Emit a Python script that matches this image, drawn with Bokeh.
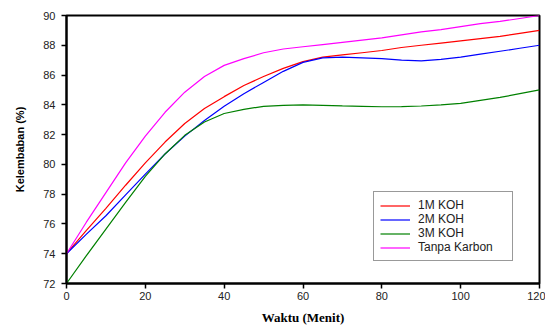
from bokeh.plotting import figure
from bokeh.models import Range1d, FixedTicker, Legend, LegendItem
from bokeh.embed import file_html
from bokeh.resources import INLINE

waktu = [0, 5, 10, 15, 20, 25, 30, 35, 40, 45, 50, 55, 60, 65, 70, 75, 80, 85, 90, 95, 100, 105, 110, 115, 120]
koh_1m = [74.0, 75.55, 77.05, 78.6, 80.1, 81.5, 82.75, 83.75, 84.55, 85.3, 85.9, 86.45, 86.9, 87.2, 87.35, 87.5, 87.65, 87.85, 88.0, 88.15, 88.3, 88.45, 88.6, 88.8, 89.0]
koh_2m = [74.0, 75.3, 76.55, 77.95, 79.35, 80.7, 81.9, 82.95, 83.9, 84.75, 85.5, 86.25, 86.85, 87.15, 87.2, 87.15, 87.1, 87.0, 86.95, 87.05, 87.2, 87.4, 87.6, 87.8, 88.0]
koh_3m = [72.0, 73.85, 75.65, 77.45, 79.2, 80.7, 81.95, 82.85, 83.42, 83.7, 83.9, 83.97, 84.0, 83.97, 83.93, 83.9, 83.87, 83.88, 83.92, 84.0, 84.1, 84.3, 84.5, 84.75, 85.0]
tanpa_karbon = [74.0, 76.1, 78.1, 80.1, 81.9, 83.5, 84.85, 85.9, 86.65, 87.1, 87.5, 87.75, 87.9, 88.05, 88.2, 88.35, 88.5, 88.7, 88.9, 89.05, 89.25, 89.45, 89.6, 89.8, 90.0]

series_names = ["1M KOH", "2M KOH", "3M KOH", "Tanpa Karbon"]
series_values = [koh_1m, koh_2m, koh_3m, tanpa_karbon]
series_colors = ["#ff0000", "#0000ff", "#008000", "#ff00ff"]

x_ticks = [0, 20, 40, 60, 80, 100, 120]
y_ticks = [72, 74, 76, 78, 80, 82, 84, 86, 88, 90]

p = figure(width=545, height=327, output_backend="svg", toolbar_location=None,
           x_range=Range1d(0, 120), y_range=Range1d(72, 90),
           min_border_left=66, min_border_right=6, min_border_top=15, min_border_bottom=43)
p.background_fill_color = "white"
p.border_fill_color = "white"
p.outline_line_color = "black"
p.outline_line_width = 2
p.xgrid.visible = False
p.ygrid.visible = False

for ax in (p.xaxis[0], p.yaxis[0]):
    ax.axis_line_color = "black"
    ax.axis_line_width = 2
    ax.major_tick_line_color = "black"
    ax.major_tick_line_width = 1.5
    ax.major_tick_out = 5
    ax.major_tick_in = 0
    ax.minor_tick_line_color = None
    ax.major_label_text_font = "Liberation Sans"
    ax.major_label_text_font_size = "11px"
    ax.major_label_text_color = "#222222"

p.xaxis[0].ticker = FixedTicker(ticks=x_ticks)
p.yaxis[0].ticker = FixedTicker(ticks=y_ticks)
p.xaxis[0].major_label_standoff = 3
p.yaxis[0].major_label_standoff = 6

p.xaxis[0].axis_label = "Waktu (Menit)"
p.xaxis[0].axis_label_text_font = "Liberation Serif"
p.xaxis[0].axis_label_text_font_style = "bold"
p.xaxis[0].axis_label_text_font_size = "13px"
p.xaxis[0].axis_label_standoff = 7
p.xaxis[0].axis_label_text_color = "black"

p.yaxis[0].axis_label = "Kelembaban (%)"
p.yaxis[0].axis_label_text_font = "Liberation Sans"
p.yaxis[0].axis_label_text_font_style = "bold"
p.yaxis[0].axis_label_text_font_size = "11px"
p.yaxis[0].axis_label_standoff = 14
p.yaxis[0].axis_label_text_color = "black"

items = []
for name, vals, col in zip(series_names, series_values, series_colors):
    r = p.line(waktu, vals, line_color=col, line_width=1.2)
    items.append(LegendItem(label=name, renderers=[r]))

legend = Legend(items=items, location=(307, 22))
legend.label_text_font = "Liberation Sans"
legend.label_text_font_size = "12px"
legend.label_text_color = "#222222"
legend.label_height = 13
legend.label_width = 88
legend.glyph_height = 13
legend.glyph_width = 30
legend.label_standoff = 8
legend.spacing = 0
legend.padding = 6
legend.margin = 0
legend.border_line_color = "#333333"
legend.border_line_width = 1.5
legend.background_fill_alpha = 1
p.add_layout(legend, "center")

open("out.html", "w").write(file_html(p, INLINE))
